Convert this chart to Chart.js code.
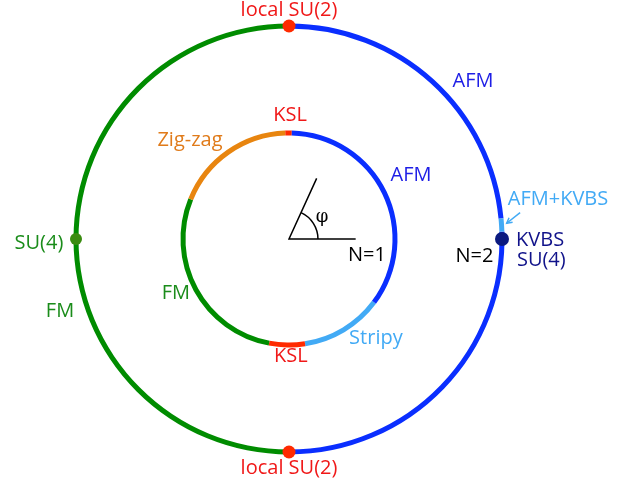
<!DOCTYPE html>
<html>
<head>
<meta charset="utf-8">
<script src="https://cdn.jsdelivr.net/npm/chart.js@4.4.1/dist/chart.umd.min.js"></script>
<style>
  html, body { margin: 0; padding: 0; background: #fff; }
  #wrap { position: relative; width: 638px; height: 487px; }
  #wrap canvas { position: absolute; left: 0; top: 0; }
</style>
</head>
<body>
<div id="wrap">
  <canvas id="rings" width="638" height="487"></canvas>
  <canvas id="marks" width="638" height="487"></canvas>
</div>
<script>
// phase boundaries: phi in degrees, counter-clockwise from +x (the angle drawn in the middle)
// each phase runs from its start to the next start, the last one wraps round to the first
const outerPhases = ["AFM+KVBS", "AFM", "FM", "AFM"];          // N=2
const outerStart = [2, 5.5, 90, 270];
const innerPhases = ["AFM", "KSL", "Zig-zag", "FM", "KSL", "Stripy"]; // N=1
const innerStart = [-36.7, 88.5, 92, 158, 259.2, 278.7];

// special points on the N=2 circle
const pointNames = ["local SU(2)", "local SU(2)", "SU(4)", "KVBS SU(4)"];
const pointPhi = [90, 270, 180, 0];

// the angle phi sketched in the centre
const sketchPhi = 65.5;

const phaseColor = {
  "AFM": "#0a2eff",
  "AFM+KVBS": "#42aaf5",
  "FM": "#008c00",
  "KSL": "#ff2a00",
  "Zig-zag": "#e8850f",
  "Stripy": "#42aaf5",
};
const pointColor = ["#ff2a00", "#ff2a00", "#3a8c10", "#0b1a80"];
const pointSize = [6.5, 6.5, 6, 7];

// geometry (px)
const CX = 289, CY = 239;
const R_OUT = 213, R_IN = 106, RING_W = 5;
const EDGE = R_OUT + RING_W / 2;
const pad = {
  left: CX - EDGE,
  right: 638 - CX - EDGE,
  top: CY - EDGE,
  bottom: 487 - CY - EDGE,
};

function ringSlices(phases, starts) {
  const spans = [];
  const colors = [];
  const n = phases.length;
  // chart.js goes clockwise, phi goes the other way: walk the list backwards
  for (let i = n - 1; i >= 0; i--) {
    const end = i === n - 1 ? starts[0] + 360 : starts[i + 1];
    spans.push(end - starts[i]);
    colors.push(phaseColor[phases[i]]);
  }
  return { spans, colors, rotation: 90 - (starts[0] + 360) };
}

const outer = ringSlices(outerPhases, outerStart);
const inner = ringSlices(innerPhases, innerStart);

const arcBase = { borderWidth: 0, hoverBorderWidth: 0, hoverOffset: 0, offset: 0 };

new Chart(document.getElementById("rings"), {
  type: "doughnut",
  data: {
    datasets: [
      { ...arcBase, data: outer.spans, backgroundColor: outer.colors, rotation: outer.rotation, weight: RING_W },
      { ...arcBase, data: [360], backgroundColor: "rgba(0,0,0,0)", weight: (R_OUT - R_IN) - RING_W },
      { ...arcBase, data: inner.spans, backgroundColor: inner.colors, rotation: inner.rotation, weight: RING_W },
    ],
  },
  options: {
    responsive: false,
    animation: false,
    events: [],
    cutout: R_IN - RING_W / 2,
    layout: { padding: pad },
    plugins: { legend: { display: false }, tooltip: { enabled: false } },
  },
});

// --- labels, in units of the N=2 radius ---
const labelText = ["local SU(2)", "local SU(2)", "AFM", "AFM+KVBS", "KVBS", "SU(4)", "N=2",
  "N=1", "KSL", "Zig-zag", "AFM", "Stripy", "KSL", "FM", "SU(4)", "FM", "\u03c6"];
const labelAt = [[0, 1.075], [0, -1.075], [0.864, 0.742], [1.263, 0.188], [1.066, -0.005], [1.07, -0.099],
  [0.871, -0.08], [0.366, -0.075], [0.005, 0.582], [-0.465, 0.465], [0.573, 0.3], [0.408, -0.465],
  [0.009, -0.549], [-0.531, -0.254], [-1.174, -0.019], [-1.075, -0.338], [0.155, 0.103]];
const labelColor = ["#f01818", "#f01818", "#1e1ee6", "#42aaf5", "#10128a", "#10128a", "#000",
  "#000", "#f01818", "#e07b1a", "#1e1ee6", "#42aaf5", "#f01818", "#1a8c1a", "#1a8c1a", "#1a8c1a", "#000"];
const labelLeft = [4, 5]; // left aligned ones

const arrowFrom = [1.085, 0.124];
const arrowTo = [1.022, 0.074];

const U = EDGE / R_OUT;

const overlay = {
  id: "overlay",
  afterDatasetsDraw(chart) {
    const { ctx, scales } = chart;
    const px = (v) => scales.x.getPixelForValue(v);
    const py = (v) => scales.y.getPixelForValue(v);
    ctx.save();

    // angle arc
    const r = px(0.136) - px(0);
    ctx.beginPath();
    ctx.strokeStyle = "#000";
    ctx.lineWidth = 1.5;
    ctx.arc(px(0), py(0), r, -sketchPhi * Math.PI / 180, 0);
    ctx.stroke();

    // arrow head
    const x1 = px(arrowFrom[0]), y1 = py(arrowFrom[1]);
    const x2 = px(arrowTo[0]), y2 = py(arrowTo[1]);
    const a = Math.atan2(y2 - y1, x2 - x1);
    ctx.strokeStyle = "#42aaf5";
    ctx.lineWidth = 1.5;
    ctx.beginPath();
    ctx.moveTo(x2 - 6 * Math.cos(a - 0.5), y2 - 6 * Math.sin(a - 0.5));
    ctx.lineTo(x2, y2);
    ctx.lineTo(x2 - 6 * Math.cos(a + 0.5), y2 - 6 * Math.sin(a + 0.5));
    ctx.stroke();

    // texts
    ctx.textBaseline = "middle";
    labelText.forEach((t, i) => {
      const isPhi = t === "\u03c6";
      ctx.font = isPhi ? "18px 'DejaVu Serif'" : "20px 'Open Sans'";
      ctx.textAlign = labelLeft.includes(i) ? "left" : "center";
      ctx.fillStyle = labelColor[i];
      ctx.fillText(t, px(labelAt[i][0]), py(labelAt[i][1]));
    });
    ctx.restore();
  },
};

const rayLen = 0.313;

new Chart(document.getElementById("marks"), {
  type: "scatter",
  data: {
    datasets: [
      {
        label: "phi",
        data: [
          { x: rayLen, y: 0 },
          { x: 0, y: 0 },
          { x: rayLen * Math.cos(sketchPhi * Math.PI / 180), y: rayLen * Math.sin(sketchPhi * Math.PI / 180) },
        ],
        showLine: true,
        borderColor: "#000",
        borderWidth: 1.5,
        pointRadius: 0,
      },
      {
        label: "arrow",
        data: [{ x: arrowFrom[0], y: arrowFrom[1] }, { x: arrowTo[0], y: arrowTo[1] }],
        showLine: true,
        borderColor: "#42aaf5",
        borderWidth: 1.5,
        pointRadius: 0,
        clip: false,
      },
      {
        label: "points",
        data: pointPhi.map((p) => ({ x: Math.cos(p * Math.PI / 180), y: Math.sin(p * Math.PI / 180) })),
        pointRadius: pointSize,
        pointBackgroundColor: pointColor,
        pointBorderWidth: 0,
        clip: false,
      },
    ],
  },
  options: {
    responsive: false,
    animation: false,
    events: [],
    layout: { padding: pad },
    scales: {
      x: { type: "linear", min: -U, max: U, display: false },
      y: { type: "linear", min: -U, max: U, display: false },
    },
    plugins: { legend: { display: false }, tooltip: { enabled: false } },
  },
  plugins: [overlay],
});
</script>
</body>
</html>
